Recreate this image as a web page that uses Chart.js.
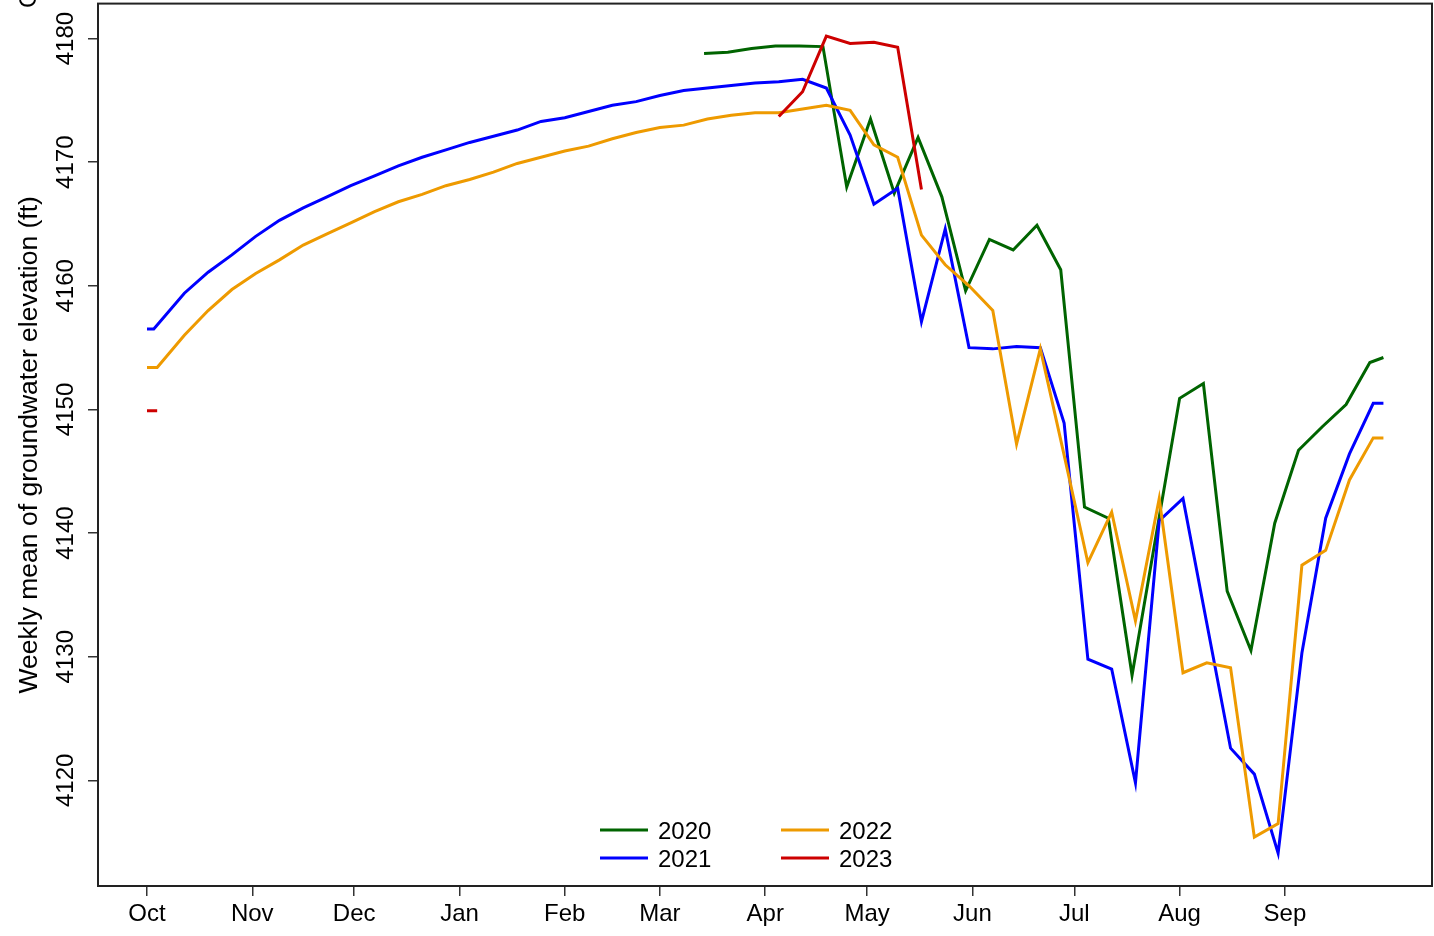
<!DOCTYPE html>
<html><head><meta charset="utf-8">
<script src="https://cdn.jsdelivr.net/npm/chart.js@4.4.1/dist/chart.umd.min.js"></script>
<style>html,body{margin:0;padding:0;background:#fff;overflow:hidden}canvas{display:block}</style>
</head><body>
<canvas id="c" width="1434" height="936"></canvas>
<script>
// x positions: days since Oct 1 of the water year
const monthDays = [0, 31, 61, 92, 123, 151, 182, 212, 243, 273, 304, 335];
const monthLabels = ['Oct','Nov','Dec','Jan','Feb','Mar','Apr','May','Jun','Jul','Aug','Sep'];
const yTicks = [4120, 4130, 4140, 4150, 4160, 4170, 4180];

const days2020 = [0,3,10,17,24,31,38,45,52,59,66,73,80,87,94,101,108,115,122,129,136,143,150,157,164,171,178,185,192,199,206,213,220,227,234,241,248,255,262,269,276,283,290,297,304,311,318,325,332,339,346,353,360,364];
const days2021 = [0,2,11,18,25,32,39,46,53,60,67,74,81,88,95,102,109,116,123,130,137,144,151,158,165,172,179,186,193,200,207,214,221,228,235,242,249,256,263,270,277,284,291,298,305,312,319,326,333,340,347,354,361,364];
const days2022 = [0,3,11,18,25,32,39,46,53,60,67,74,81,88,95,102,109,116,123,130,137,144,151,158,165,172,179,186,193,200,207,214,221,228,235,242,249,256,263,270,277,284,291,298,305,312,319,326,333,340,347,354,361,364];
const days2023 = days2022;

const elev2020 = [null,null,null,null,null,null,null,null,null,null,null,null,null,null,null,null,null,null,null,null,null,null,null,null,
  4178.8,4178.9,4179.2,4179.4,4179.4,4179.35,4168.0,4173.5,4167.5,4172.0,4167.2,4159.6,4163.75,4162.9,4164.9,4161.3,
  4142.1,4141.2,4128.5,4139.7,4150.9,4152.1,4135.3,4130.5,4140.8,4146.7,4148.6,4150.4,4153.8,4154.2];
const elev2021 = [4156.5,4156.5,4159.4,4161.1,4162.5,4164.0,4165.3,4166.3,4167.2,4168.1,4168.9,4169.7,4170.4,4171.0,4171.6,
  4172.1,4172.6,4173.3,4173.6,4174.1,4174.6,4174.9,4175.4,4175.8,4176.0,4176.2,4176.4,4176.5,4176.7,4176.0,4172.2,4166.6,
  4167.9,4157.1,4164.6,4155.0,4154.9,4155.1,4155.0,4148.9,4129.8,4129.0,4119.8,4141.0,4142.8,4132.7,4122.6,4120.5,4114.1,
  4130.3,4141.2,4146.4,4150.5,4150.5];
const elev2022 = [4153.4,4153.4,4156.0,4158.0,4159.7,4161.0,4162.1,4163.3,4164.2,4165.1,4166.0,4166.8,4167.4,4168.1,4168.6,
  4169.2,4169.9,4170.4,4170.9,4171.3,4171.9,4172.4,4172.8,4173.0,4173.5,4173.8,4174.0,4174.0,4174.3,4174.6,4174.2,4171.4,
  4170.4,4164.1,4161.7,4160.0,4158.0,4147.2,4154.9,4146.3,4137.6,4141.7,4132.9,4142.8,4128.7,4129.5,4129.1,4115.4,4116.5,
  4137.4,4138.6,4144.3,4147.7,4147.7];
const elev2023 = [4149.9,4149.9,null,null,null,null,null,null,null,null,null,null,null,null,null,null,null,null,null,null,null,null,null,null,null,null,null,
  4173.7,4175.7,4180.2,4179.6,4179.7,4179.3,4167.8,
  null,null,null,null,null,null,null,null,null,null,null,null,null,null,null,null,null,null,null,null];

const seriesNames = ['2020','2021','2022','2023'];
const seriesColors = ['#006400','#0000FF','#EE9A00','#CD0000'];
const seriesDays = [days2020, days2021, days2022, days2023];
const seriesVals = [elev2020, elev2021, elev2022, elev2023];

const FONT = '"Liberation Sans", Arial, Helvetica, sans-serif';

const datasets = seriesNames.map((name, i) => ({
  label: name,
  data: seriesDays[i].map((d, j) => ({x: d, y: seriesVals[i][j]})),
  borderColor: seriesColors[i],
  backgroundColor: seriesColors[i],
  borderWidth: 3,
  pointRadius: 0,
  tension: 0,
  spanGaps: false,
  fill: false,
  order: 4 - i
}));

const decor = {
  id: 'decor',
  afterDraw(chart) {
    const ctx = chart.ctx;
    const a = chart.chartArea;
    const ys = chart.scales.y;
    ctx.save();
    // frame
    ctx.strokeStyle = '#222';
    ctx.lineWidth = 2;
    ctx.strokeRect(a.left, a.top, a.right - a.left, a.bottom - a.top);
    // rotated y tick labels
    ctx.fillStyle = '#000';
    ctx.font = '24px ' + FONT;
    ctx.textAlign = 'center';
    ctx.textBaseline = 'alphabetic';
    yTicks.forEach(v => {
      const py = ys.getPixelForValue(v);
      ctx.save();
      ctx.translate(73, py);
      ctx.rotate(-Math.PI / 2);
      ctx.fillText(String(v), 0, 0);
      ctx.restore();
    });
    // cut-off panel letter
    ctx.save();
    ctx.translate(36, 8);
    ctx.rotate(-Math.PI / 2);
    ctx.textAlign = 'left';
    ctx.fillText('C', 0, 0);
    ctx.restore();
    // y axis title
    ctx.save();
    ctx.font = '26.5px ' + FONT;
    ctx.translate(37, (a.top + a.bottom) / 2);
    ctx.rotate(-Math.PI / 2);
    ctx.textAlign = 'center';
    ctx.fillText('Weekly mean of groundwater elevation (ft)', 0, 0);
    ctx.restore();
    // legend
    const cols = [600, 781];
    const rows = [830, 858];
    chart.data.datasets.forEach((ds, i) => {
      const cx = cols[Math.floor(i / 2)];
      const cy = rows[i % 2];
      ctx.strokeStyle = ds.borderColor;
      ctx.lineWidth = 3;
      ctx.beginPath();
      ctx.moveTo(cx, cy);
      ctx.lineTo(cx + 48, cy);
      ctx.stroke();
      ctx.fillStyle = '#000';
      ctx.textAlign = 'left';
      ctx.textBaseline = 'alphabetic';
      ctx.fillText(ds.label, cx + 58, cy + 8.6);
    });
    ctx.restore();
  }
};

new Chart(document.getElementById('c'), {
  type: 'line',
  data: { datasets },
  options: {
    responsive: false,
    animation: false,
    devicePixelRatio: 1,
    layout: { padding: { left: 0, right: 2, top: 3, bottom: 0 } },
    plugins: { legend: { display: false }, tooltip: { enabled: false } },
    scales: {
      x: {
        type: 'linear',
        min: -14.42,
        max: 378.3,
        afterBuildTicks: s => { s.ticks = monthDays.map(v => ({ value: v })); },
        afterFit: s => { s.height = 50; },
        ticks: {
          autoSkip: false, maxRotation: 0, minRotation: 0,
          padding: 4,
          color: '#000',
          font: { family: FONT, size: 24 },
          callback: (v, i) => monthLabels[i]
        },
        grid: { drawOnChartArea: false, drawTicks: true, tickLength: 10, color: '#333', lineWidth: 1.5 },
        border: { display: false }
      },
      y: {
        type: 'linear',
        min: 4111.45,
        max: 4182.83,
        afterBuildTicks: s => { s.ticks = yTicks.map(v => ({ value: v })); },
        afterFit: s => { s.width = 98; },
        ticks: { color: 'rgba(0,0,0,0)', font: { family: FONT, size: 1 } },
        grid: { drawOnChartArea: false, drawTicks: true, tickLength: 10, color: '#333', lineWidth: 1.5 },
        border: { display: false }
      }
    }
  },
  plugins: [decor]
});
</script>
</body></html>
